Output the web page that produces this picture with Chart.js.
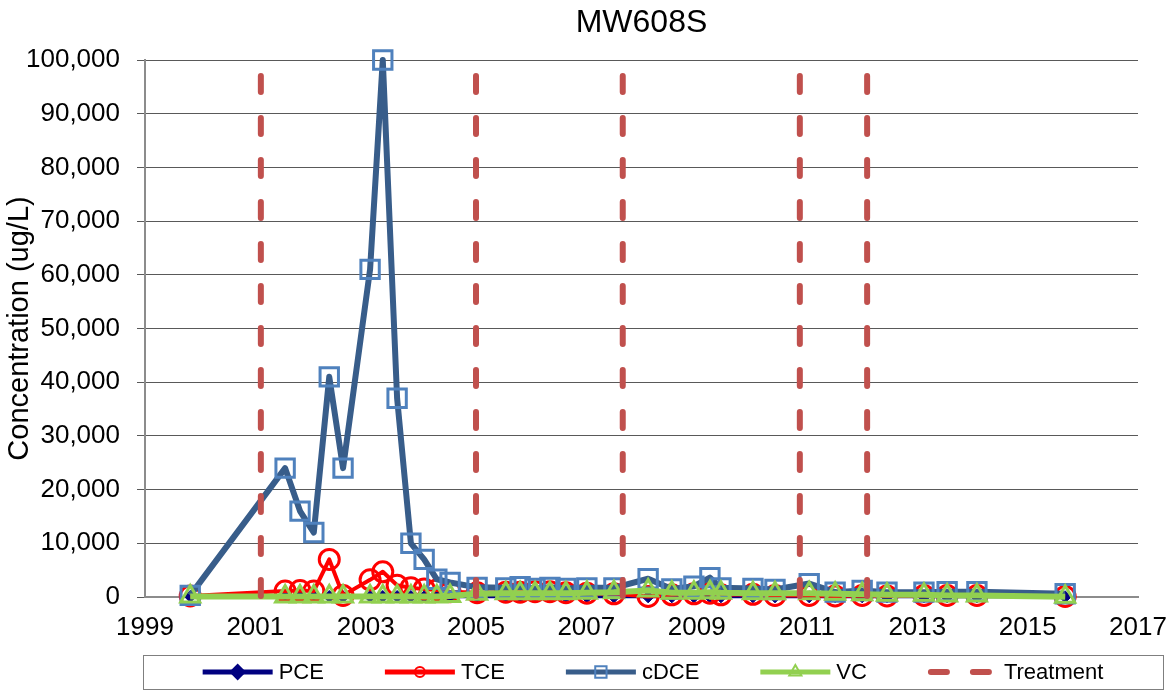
<!DOCTYPE html>
<html>
<head>
<meta charset="utf-8">
<title>MW608S</title>
<script src="https://cdn.jsdelivr.net/npm/chart.js@4.4.1/dist/chart.umd.min.js"></script>
<style>
  html, body { margin: 0; padding: 0; background: #fff; }
  #wrap { width: 1175px; height: 690px; }
</style>
</head>
<body>
<div id="wrap"><canvas id="myChart" width="1175" height="690"></canvas></div>
<script>
// sampling dates as decimal years
const sampleDates = [1999.82, 2001.54, 2001.81, 2002.06, 2002.34, 2002.59, 2003.08, 2003.31, 2003.57, 2003.82,
    2004.06, 2004.29, 2004.53, 2005.02, 2005.54, 2005.80, 2006.07, 2006.34, 2006.63, 2007.01,
    2007.50, 2008.12, 2008.55, 2008.95, 2009.24, 2009.44, 2010.02, 2010.42, 2011.04, 2011.51,
    2012.00, 2012.45, 2013.12, 2013.54, 2014.08, 2015.68];

// concentrations in ug/L, one per sampling date
const pce = [100, 100, 100, 100, 100, 50, 100, 100, 100, 100,
    50, 50, 50, 50, 30, 30, 30, 30, 30, 30,
    30, 30, 30, 30, 30, 30, 30, 30, 30, 30,
    30, 30, 30, 30, 30, 30];
const tce = [200, 1100, 1200, 1100, 7000, 300, 3200, 4700, 2200, 1700,
    1500, 1300, 1000, 800, 900, 900, 1000, 1000, 800, 700,
    600, 100, 400, 600, 700, 400, 500, 300, 300, 200,
    300, 200, 300, 300, 300, 100];
const cdce = [300, 24000, 16000, 12000, 41000, 24000, 61000, 100000, 37000, 10000,
    7000, 3300, 2700, 1800, 1700, 1900, 1600, 1800, 1600, 1700,
    1700, 3400, 1500, 2000, 3600, 1700, 1600, 1400, 2500, 900,
    1200, 900, 900, 1000, 1000, 600];
const vc = [100, 100, 100, 100, 100, 100, 100, 100, 100, 100,
    100, 100, 200, 600, 700, 700, 700, 700, 700, 800,
    900, 1200, 800, 800, 900, 800, 700, 700, 700, 600,
    500, 400, 400, 300, 300, 50];

// treatment events (decimal years) and the height of the marker lines
const treatmentDates = [2001.10, 2005.00, 2007.66, 2010.87, 2012.09];
const treatmentTop = 97000;

// axis ticks
const xTicks = [1999, 2001, 2003, 2005, 2007, 2009, 2011, 2013, 2015, 2017];
const yTicks = [0, 10000, 20000, 30000, 40000, 50000, 60000, 70000, 80000, 90000, 100000];

const FONT = '"Liberation Sans", Arial, sans-serif';

function toPoints(values) {
    return sampleDates.map((d, i) => ({ x: d, y: values[i] }));
}

// each treatment is its own vertical segment, separated by a gap
const treatmentPoints = treatmentDates.flatMap(t => [
    { x: t, y: treatmentTop },
    { x: t, y: 0 },
    { x: t, y: null }
]);

// legend drawn inside a box under the plot, with line + marker samples
const boxLegend = {
    id: 'boxLegend',
    afterDraw(chart) {
        const ctx = chart.ctx;
        const box = { left: 143, right: 1163, top: 655, bottom: 689 };
        const midY = (box.top + box.bottom) / 2;

        ctx.save();
        ctx.strokeStyle = '#7f7f7f';
        ctx.lineWidth = 1;
        ctx.strokeRect(box.left + 0.5, box.top + 0.5, box.right - box.left, box.bottom - box.top);

        ctx.font = '22px ' + FONT;
        ctx.textBaseline = 'middle';
        ctx.textAlign = 'left';

        const lineLen = 70, textGap = 6, itemGap = 61;
        const items = chart.data.datasets.map(ds => ({ ds, w: ctx.measureText(ds.label).width }));
        let total = 0;
        items.forEach(it => total += lineLen + textGap + it.w);
        total += itemGap * (items.length - 1);

        let x = (box.left + box.right) / 2 - total / 2;
        items.forEach(it => {
            const ds = it.ds;
            ctx.save();
            ctx.strokeStyle = ds.borderColor;
            ctx.lineWidth = ds.legendLineWidth;
            ctx.lineCap = ds.borderCapStyle || 'butt';
            ctx.setLineDash(ds.borderDash || []);
            ctx.beginPath();
            ctx.moveTo(x + (ds.borderDash ? 3 : 0), midY);
            ctx.lineTo(x + lineLen, midY);
            ctx.stroke();
            ctx.setLineDash([]);
            if (ds.pointStyle && ds.pointRadius > 0) {
                ctx.strokeStyle = ds.pointBorderColor;
                ctx.fillStyle = ds.pointBackgroundColor;
                ctx.lineWidth = 2;
                Chart.helpers.drawPoint(ctx, {
                    pointStyle: ds.pointStyle,
                    radius: ds.legendRadius,
                    borderWidth: 2,
                    rotation: 0
                }, x + lineLen / 2, midY);
            }
            ctx.restore();
            ctx.fillStyle = '#000';
            ctx.fillText(ds.label, x + lineLen + textGap, midY + 1);
            x += lineLen + textGap + it.w + itemGap;
        });
        ctx.restore();
    }
};

const data = {
    datasets: [
        {
            label: 'PCE',
            data: toPoints(pce),
            borderColor: '#000080',
            borderWidth: 3,
            borderJoinStyle: 'round',
            legendLineWidth: 5,
            pointStyle: 'rectRot',
            pointRadius: 6,
            legendRadius: 7,
            pointBorderColor: '#000080',
            pointBackgroundColor: '#000080',
            pointBorderWidth: 1,
            order: 4
        },
        {
            label: 'TCE',
            data: toPoints(tce),
            borderColor: '#ff0000',
            borderWidth: 4,
            borderJoinStyle: 'round',
            legendLineWidth: 5,
            pointStyle: 'circle',
            pointRadius: 10,
            legendRadius: 5,
            pointBorderColor: '#ff0000',
            pointBackgroundColor: 'rgba(0,0,0,0)',
            pointBorderWidth: 3,
            order: 3
        },
        {
            label: 'cDCE',
            data: toPoints(cdce),
            borderColor: '#385d8a',
            borderWidth: 6,
            borderJoinStyle: 'round',
            legendLineWidth: 5,
            pointStyle: 'rect',
            pointRadius: 13,
            legendRadius: 8,
            pointBorderColor: '#4f81bd',
            pointBackgroundColor: 'rgba(0,0,0,0)',
            pointBorderWidth: 3,
            order: 2
        },
        {
            label: 'VC',
            data: toPoints(vc),
            borderColor: '#92d050',
            borderWidth: 6,
            borderJoinStyle: 'round',
            legendLineWidth: 5,
            pointStyle: 'triangle',
            pointRadius: 11,
            legendRadius: 7,
            pointBorderColor: '#92d050',
            pointBackgroundColor: 'rgba(0,0,0,0)',
            pointBorderWidth: 3,
            order: 1
        },
        {
            label: 'Treatment',
            data: treatmentPoints,
            borderColor: '#c0504d',
            borderWidth: 6,
            legendLineWidth: 6,
            borderDash: [16, 26],
            borderCapStyle: 'round',
            pointRadius: 0,
            spanGaps: false,
            order: 0
        }
    ]
};

const config = {
    type: 'line',
    data: data,
    options: {
        responsive: false,
        animation: false,
        events: [],
        clip: false,
        layout: { padding: { left: 0, right: 37, top: 0, bottom: 43 } },
        elements: { line: { tension: 0 } },
        plugins: {
            legend: { display: false },
            tooltip: { enabled: false },
            title: {
                display: true,
                text: 'MW608S',
                fullSize: false,
                color: '#000',
                font: { family: FONT, size: 32, weight: 'normal' },
                padding: { top: 4, bottom: 17.6 }
            }
        },
        scales: {
            x: {
                type: 'linear',
                min: 1999,
                max: 2017,
                afterBuildTicks: scale => { scale.ticks = xTicks.map(v => ({ value: v })); },
                afterFit: scale => {
                    scale.height = 50;
                    scale.paddingLeft = 0;
                    scale.paddingRight = 0;
                },
                grid: { drawOnChartArea: false, drawTicks: false },
                border: { display: true, color: '#8c8c8c', width: 2 },
                ticks: {
                    color: '#000',
                    padding: 15,
                    maxRotation: 0,
                    autoSkip: false,
                    font: { family: FONT, size: 26 },
                    callback: v => String(v)
                }
            },
            y: {
                min: 0,
                max: 100000,
                afterBuildTicks: scale => { scale.ticks = yTicks.map(v => ({ value: v })); },
                afterFit: scale => {
                    scale.width = 145;
                    scale.paddingTop = 0;
                    scale.paddingBottom = 0;
                },
                grid: { color: '#595959', lineWidth: 1, tickLength: 8 },
                border: { display: true, color: '#8c8c8c', width: 2 },
                ticks: {
                    color: '#000',
                    padding: 17,
                    autoSkip: false,
                    font: { family: FONT, size: 26 },
                    callback: v => v.toLocaleString('en-US')
                },
                title: {
                    display: true,
                    text: 'Concentration (ug/L)',
                    color: '#000',
                    font: { family: FONT, size: 29 },
                    padding: { top: 3, bottom: 0 }
                }
            }
        }
    },
    plugins: [boxLegend]
};

const myChart = new Chart(document.getElementById('myChart'), config);
</script>
</body>
</html>
